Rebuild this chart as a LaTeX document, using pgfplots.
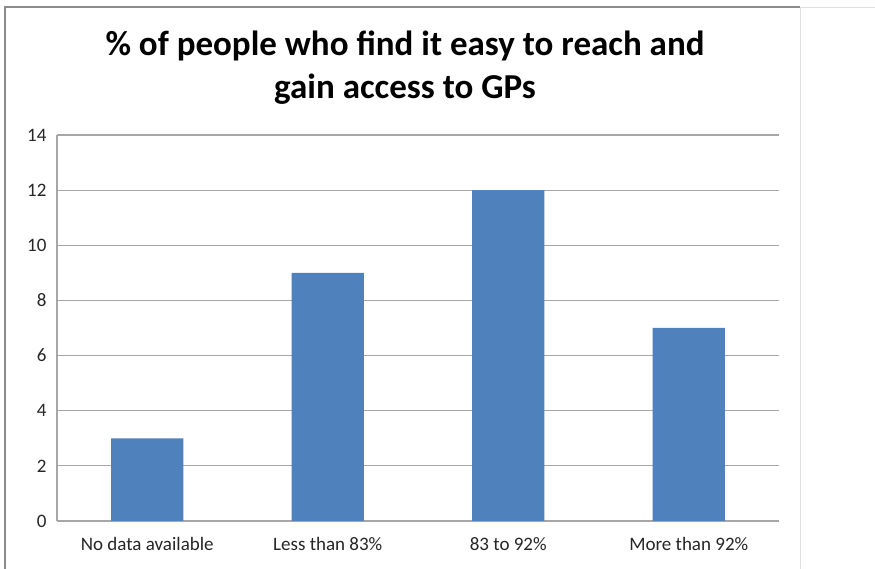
\documentclass[border=0pt]{standalone}
\usepackage{pgfplots}
\pgfplotsset{compat=1.18}
\usepackage{fontspec}
\setmainfont{Carlito}
\definecolor{barblue}{HTML}{4F81BD}
\definecolor{gridgray}{HTML}{A6A6A6}
\begin{document}
\begin{tikzpicture}
\useasboundingbox (0pt,0pt) rectangle (875pt,569pt);
\fill[white] (0pt,0pt) rectangle (875pt,569pt);
\draw[line width=0.8pt, color=black!12] (800pt,562pt) -- (875pt,562pt);
\draw[line width=1pt, color=black!12] (800pt,562pt) -- (800pt,0pt);
\draw[line width=1.8pt, color=black!45] (5pt,0pt) -- (5pt,562pt) -- (800pt,562pt);
\node[font=\fontsize{35}{43}\selectfont\bfseries, align=center] at (405pt,501pt) {\% of people who find it easy to reach and\\gain access to GPs};
\begin{axis}[
  at={(57pt,48pt)}, anchor=south west,
  scale only axis, width=722pt, height=386pt,
  xmin=-0.5, xmax=3.5, ymin=0, ymax=14,
  ytick={0,2,...,14},
  xtick={0,1,2,3},
  xticklabels={No data available, Less than 83\%, 83 to 92\%, More than 92\%},
  /pgf/number format/assume math mode=true,
  ticklabel style={font=\fontsize{19}{22}\selectfont, text=black!85},
  yticklabel style={xshift=-7pt},
  xticklabel style={yshift=-13pt},
  major tick length=0pt,
  ymajorgrids, grid style={line width=1.2pt, color=gridgray},
  axis x line*=bottom, axis y line*=left,
  axis line style={line width=1.2pt, color=gridgray, -},
]
\addplot[ybar, bar width=0.4, fill=barblue, draw=none] coordinates {(0,3) (1,9) (2,12) (3,7)};
\end{axis}
\end{tikzpicture}
\end{document}
